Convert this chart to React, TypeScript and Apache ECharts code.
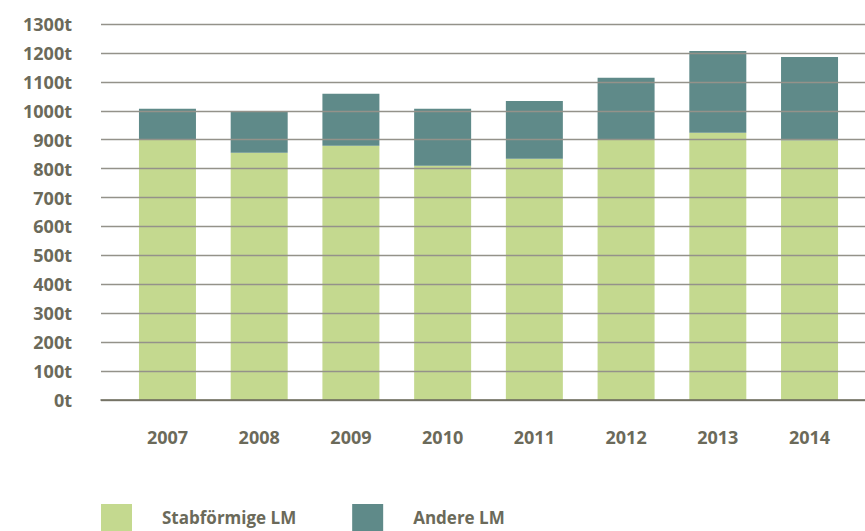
import React, { useEffect, useRef } from "react";
import * as echarts from "echarts";

const years = ["2007", "2008", "2009", "2010", "2011", "2012", "2013", "2014"];
const stabfoermig = [900, 855, 879, 810, 834, 900, 924, 898];
const andere = [107, 142, 180, 197, 200, 214, 283, 288];
const seriesNames = ["Stabförmige LM", "Andere LM"];

const TEXT = "#6b6a5a";
const GREEN = "#c4d98f";
const TEAL = "#5f8a89";
const FONT = "'Open Sans', 'Noto Sans', sans-serif";

export default function App() {
  const ref = useRef<HTMLDivElement>(null);
  useEffect(() => {
    if (!ref.current) return;
    const chart = echarts.init(ref.current, undefined, { renderer: "svg" });
    chart.setOption({
      animation: false,
      backgroundColor: "#ffffff",
      textStyle: { fontFamily: FONT },
      grid: [
        { left: 101, right: 0, top: 24, bottom: 131, containLabel: false },
        { left: 121.6, right: 9.6, top: 24, bottom: 131, containLabel: false },
      ],
      legend: {
        left: 101,
        top: 504,
        padding: 0,
        itemWidth: 31,
        itemHeight: 27,
        itemGap: 56,
        icon: "rect",
        data: seriesNames,
        textStyle: {
          color: TEXT,
          fontFamily: FONT,
          fontWeight: "bold",
          fontSize: 17,
          lineHeight: 18,
          padding: [0, 0, 0, 25],
        },
      },
      xAxis: [
        {
          gridIndex: 0,
          type: "value",
          min: 0,
          max: 1,
          z: 6,
          axisLine: { show: true, onZero: false, lineStyle: { color: TEXT, width: 1.5 } },
          axisTick: { show: false },
          axisLabel: { show: false },
          splitLine: { show: false },
        },
        {
          gridIndex: 1,
          type: "category",
          data: years,
          axisLine: { show: false },
          axisTick: { show: false },
          axisLabel: {
            color: TEXT,
            fontFamily: FONT,
            fontWeight: "bold",
            fontSize: 18,
            margin: 28,
          },
        },
      ],
      yAxis: [
        {
          gridIndex: 0,
          type: "value",
          min: 0,
          max: 1300,
          interval: 100,
          z: 5,
          axisLine: { show: false },
          axisTick: { show: false },
          axisLabel: {
            formatter: (v: number) => `${v}t`,
            color: TEXT,
            fontFamily: FONT,
            fontWeight: "bold",
            fontSize: 18,
            margin: 29,
          },
          splitLine: { show: true, lineStyle: { color: "#94928a", width: 1.3 } },
        },
        {
          gridIndex: 1,
          type: "value",
          min: 0,
          max: 1300,
          interval: 100,
          show: false,
          splitLine: { show: false },
        },
      ],
      series: [
        {
          name: seriesNames[0],
          type: "bar",
          stack: "total",
          xAxisIndex: 1,
          yAxisIndex: 1,
          barWidth: 57,
          itemStyle: { color: GREEN },
          data: stabfoermig,
        },
        {
          name: seriesNames[1],
          type: "bar",
          stack: "total",
          xAxisIndex: 1,
          yAxisIndex: 1,
          barWidth: 57,
          itemStyle: { color: TEAL },
          data: andere,
        },
      ],
    });
    return () => chart.dispose();
  }, []);
  return <div ref={ref} style={{ width: 865, height: 531, position: "absolute", left: 0, top: 0 }} />;
}
